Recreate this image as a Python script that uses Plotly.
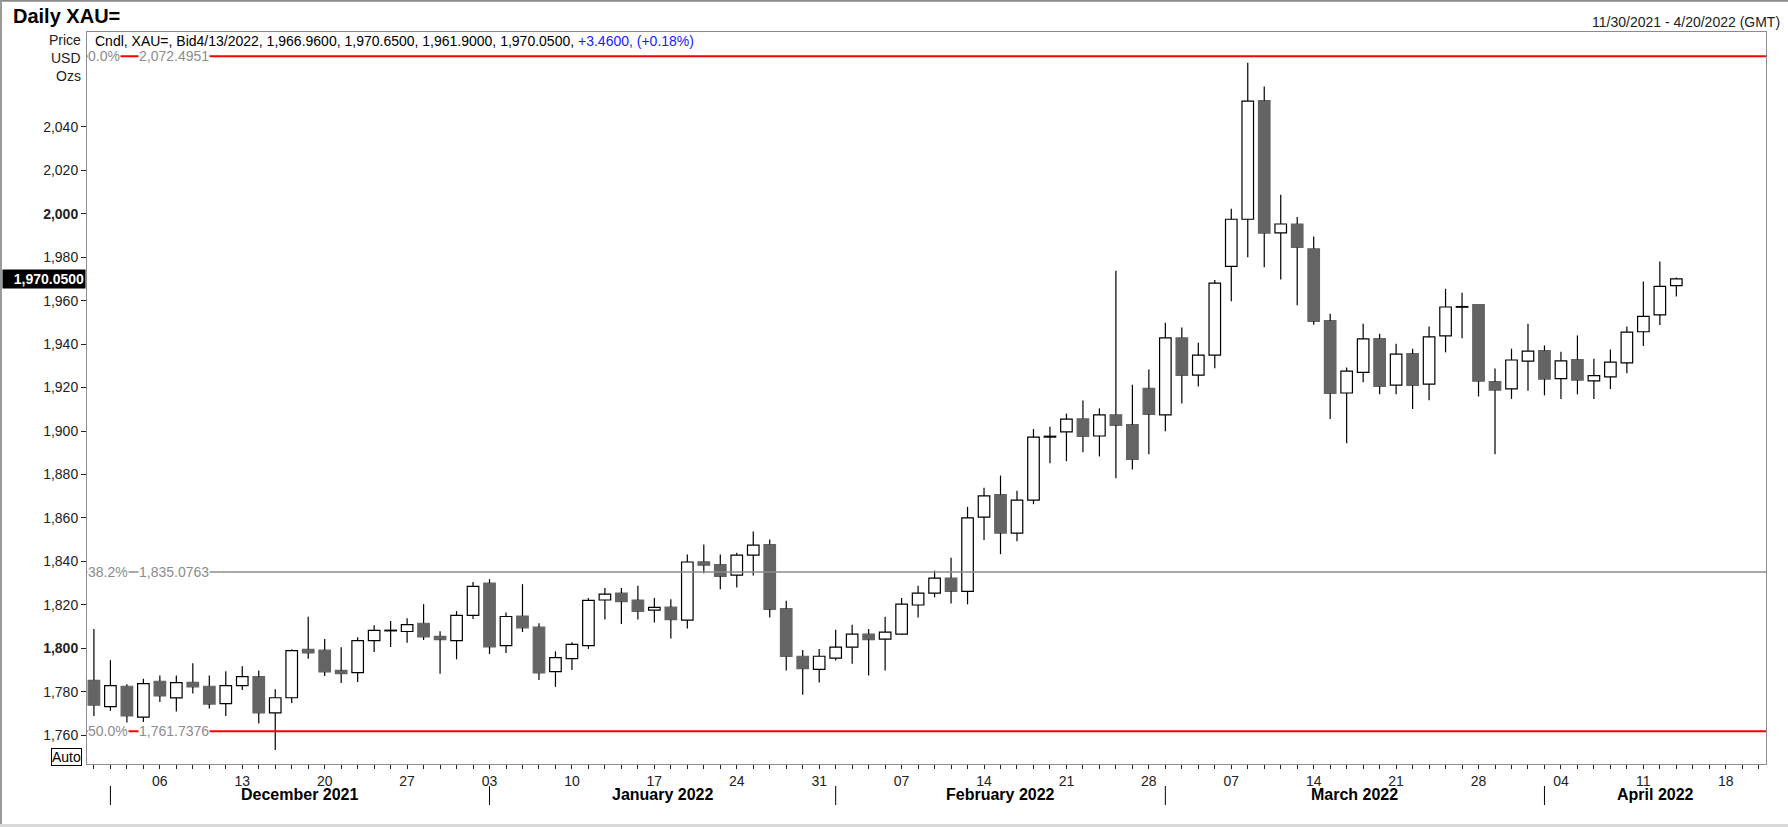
import pandas as pd
import plotly.graph_objects as go

# trading days shown on the axis (data runs to 4/13, axis to 4/20)
axis_days = pd.bdate_range("2021-11-30", "2022-04-20")

opens = [1785.2, 1773.1, 1782.5, 1768.3, 1784.8, 1777.1, 1784.3, 1782.5, 1774.5, 1782.8,
         1786.9, 1770.2, 1777.2, 1799.5, 1799.1, 1789.8, 1788.8, 1803.5, 1808.0, 1807.7,
         1811.5, 1805.5, 1803.5, 1815.1, 1830.0, 1801.2, 1814.8, 1809.7, 1789.2, 1795.2,
         1801.2, 1822.2, 1825.4, 1822.2, 1817.5, 1818.9, 1812.9, 1839.8, 1838.5, 1833.7,
         1842.9, 1847.7, 1818.2, 1796.3, 1790.3, 1795.4, 1800.5, 1806.5, 1804.2, 1806.5,
         1819.9, 1825.4, 1832.3, 1826.2, 1860.4, 1870.7, 1853.0, 1868.2, 1897.2, 1899.6,
         1905.6, 1897.7, 1907.5, 1902.9, 1919.6, 1907.4, 1942.9, 1925.7, 1934.9, 1975.8,
         1997.5, 2052.1, 1991.2, 1995.3, 1983.9, 1950.8, 1917.5, 1927.0, 1942.5, 1921.1,
         1935.6, 1921.6, 1943.8, 1957.0, 1958.2, 1922.7, 1919.4, 1932.2, 1937.0, 1924.1,
         1932.9, 1923.1, 1924.9, 1931.4, 1945.7, 1953.5, 1966.96]
highs = [1808.8, 1794.5, 1783.4, 1786.0, 1787.5, 1787.5, 1793.1, 1787.5, 1789.4, 1791.7,
         1789.8, 1781.1, 1799.5, 1814.5, 1804.2, 1800.5, 1805.1, 1810.6, 1812.5, 1813.8,
         1820.3, 1807.8, 1817.1, 1830.5, 1831.8, 1816.5, 1829.5, 1811.5, 1798.6, 1802.8,
         1823.1, 1827.7, 1827.7, 1828.8, 1823.1, 1822.6, 1843.1, 1847.7, 1843.1, 1844.0,
         1853.7, 1850.0, 1821.9, 1799.2, 1799.7, 1808.5, 1810.8, 1808.9, 1814.5, 1823.1,
         1828.8, 1835.7, 1841.7, 1865.1, 1873.9, 1879.5, 1872.5, 1900.9, 1902.0, 1908.0,
         1914.0, 1910.4, 1973.8, 1921.3, 1928.3, 1949.8, 1947.6, 1940.6, 1969.5, 2002.3,
         2069.5, 2058.6, 2008.8, 1998.5, 1989.5, 1954.0, 1929.2, 1949.4, 1944.8, 1940.2,
         1937.9, 1948.1, 1965.5, 1963.6, 1958.2, 1928.8, 1937.9, 1949.4, 1939.4, 1936.5,
         1944.0, 1933.3, 1937.5, 1948.1, 1968.8, 1978.0, 1970.65]
lows = [1768.8, 1771.2, 1762.0, 1766.0, 1775.2, 1770.9, 1779.1, 1772.2, 1768.8, 1780.8,
        1765.4, 1753.2, 1774.8, 1795.1, 1787.2, 1784.0, 1784.5, 1798.3, 1800.6, 1802.5,
        1803.8, 1788.2, 1794.9, 1813.5, 1797.4, 1797.8, 1807.5, 1785.4, 1782.2, 1790.0,
        1799.7, 1813.2, 1811.1, 1813.2, 1811.8, 1804.5, 1809.1, 1834.5, 1827.1, 1828.0,
        1833.5, 1814.2, 1789.7, 1778.6, 1784.2, 1794.3, 1792.9, 1787.4, 1789.7, 1806.3,
        1814.2, 1823.4, 1820.6, 1820.2, 1849.8, 1843.3, 1849.2, 1866.3, 1885.2, 1886.1,
        1890.2, 1888.3, 1878.2, 1882.3, 1889.3, 1899.9, 1912.7, 1920.5, 1928.9, 1959.7,
        1980.0, 1975.4, 1969.8, 1957.9, 1948.9, 1905.5, 1894.4, 1922.4, 1916.9, 1916.9,
        1910.1, 1914.2, 1936.2, 1942.7, 1915.9, 1889.3, 1914.8, 1918.5, 1916.4, 1914.7,
        1916.9, 1914.7, 1919.3, 1926.6, 1939.1, 1948.8, 1961.90]
closes = [1773.8, 1782.8, 1768.8, 1783.7, 1778.0, 1784.2, 1782.2, 1774.3, 1782.8, 1786.9,
          1770.2, 1777.2, 1798.9, 1797.8, 1789.1, 1788.3, 1803.5, 1808.2, 1808.3, 1810.9,
          1805.2, 1804.0, 1815.1, 1828.5, 1800.6, 1814.6, 1809.4, 1788.6, 1795.7, 1801.8,
          1822.0, 1824.9, 1821.5, 1816.9, 1818.8, 1813.2, 1839.7, 1838.2, 1833.1, 1842.9,
          1847.5, 1817.9, 1796.2, 1790.6, 1796.3, 1800.5, 1806.5, 1804.0, 1807.4, 1820.3,
          1825.4, 1832.3, 1826.2, 1860.0, 1870.1, 1853.0, 1868.2, 1897.2, 1897.6, 1905.5,
          1897.5, 1907.4, 1902.6, 1886.9, 1907.7, 1942.9, 1925.6, 1934.9, 1968.1, 1997.5,
          2051.9, 1991.1, 1995.3, 1984.5, 1950.5, 1917.3, 1927.6, 1942.4, 1920.5, 1935.4,
          1921.0, 1943.3, 1957.1, 1957.3, 1922.9, 1918.8, 1932.7, 1936.8, 1923.9, 1932.3,
          1923.4, 1925.5, 1931.7, 1945.5, 1952.8, 1966.59, 1970.05]

fib_levels = [2072.4951, 1835.0763, 1761.7376]
fib_pcts = ["0.0%", "38.2%", "50.0%"]
fib_colors = ["#ff0000", "#8c8c8c", "#ff0000"]

y_ticks = [1760, 1780, 1800, 1820, 1840, 1860, 1880, 1900, 1920, 1940, 1960, 1980, 2000, 2020, 2040]
bold_ticks = [1800, 2000]
last_price = 1970.05

W, H = 1788, 827
L, R, T, B = 87, 1766, 32, 764   # plot area in pixels


def px_x(px):
    return (px - L) / (R - L)


def px_y(py):
    return (B - py) / (B - T)


font = "Liberation Sans, Arial, sans-serif"
idx = list(range(len(opens)))

# wicks drawn as two pieces so they don't cross hollow bodies
wick_x, wick_y = [], []
body_base, body_h, body_fill, body_line = [], [], [], []
for i, o, h, l, c in zip(idx, opens, highs, lows, closes):
    top, bot = max(o, c), min(o, c)
    wick_x += [i, i, None, i, i, None]
    wick_y += [h, top, None, bot, l, None]
    body_base.append(bot)
    body_h.append(top - bot)
    up = c >= o
    body_fill.append("white" if up else "#646464")
    body_line.append("black" if up else "#646464")

fig = go.Figure()
fig.add_trace(go.Scatter(x=wick_x, y=wick_y, mode="lines",
                         line=dict(color="black", width=1.2), hoverinfo="skip"))
fig.add_trace(go.Bar(x=idx, y=body_h, base=body_base, width=0.7,
                     marker=dict(color=body_fill, line=dict(color=body_line, width=1.2)),
                     hoverinfo="skip"))

# x axis: a tick each trading day, label on Mondays
x_vals = list(range(len(axis_days)))
x_text = [d.strftime("%d") if d.weekday() == 0 else "" for d in axis_days]
x_range = [-0.42, 101.44]

fig.update_xaxes(range=x_range, tickvals=x_vals, ticktext=x_text, ticks="outside",
                 ticklen=4, tickwidth=1, tickcolor="#222222", showgrid=False, zeroline=False,
                 showline=True, linecolor="#8b8b94", linewidth=1, mirror=True,
                 tickfont=dict(size=14, color="#222222"))
fig.update_yaxes(range=[1746.7, 2083.7], tickvals=y_ticks,
                 ticktext=[("<b>{:,}</b>" if v in bold_ticks else "{:,}").format(v) for v in y_ticks],
                 ticks="outside", ticklen=5, tickwidth=1, tickcolor="#222222",
                 showgrid=False, zeroline=False, showline=True, linecolor="#8b8b94",
                 linewidth=1, mirror=True, tickfont=dict(size=14, color="#222222"))

shapes = []
annotations = []

# fibonacci levels
for lvl, pct, col in zip(fib_levels, fib_pcts, fib_colors):
    shapes.append(dict(type="line", xref="paper", x0=0, x1=1, yref="y", y0=lvl, y1=lvl,
                       line=dict(color=col, width=2 if col == "#ff0000" else 1.5)))
    annotations.append(dict(xref="paper", x=0, xanchor="left", yref="y", y=lvl, yanchor="middle",
                            text=pct, showarrow=False, bgcolor="white", borderpad=0,
                            font=dict(size=14, color="#8c8c8c")))
    annotations.append(dict(xref="paper", x=0, xanchor="left", xshift=51, yref="y", y=lvl,
                            yanchor="middle", text="{:,.4f}".format(lvl), showarrow=False,
                            bgcolor="white", borderpad=0, font=dict(size=14, color="#8c8c8c")))

# month separators and names
month_starts = []
for i, d in enumerate(axis_days):
    if i > 0 and d.month != axis_days[i - 1].month:
        month_starts.append(i)
bounds = month_starts + [x_range[1] + 0.06]
for k, s in enumerate(month_starts):
    shapes.append(dict(type="line", xref="x", x0=s, x1=s, yref="paper",
                       y0=px_y(786), y1=px_y(805), line=dict(color="black", width=1)))
    center = (s + bounds[k + 1]) / 2
    annotations.append(dict(xref="x", x=center, yref="paper", y=px_y(794), yanchor="middle",
                            text="<b>" + axis_days[s].strftime("%B %Y") + "</b>",
                            showarrow=False, font=dict(size=16, color="black")))

# outer frame
shapes.append(dict(type="line", xref="paper", yref="paper", x0=px_x(0), x1=px_x(W),
                   y0=px_y(0.8), y1=px_y(0.8), line=dict(color="#8a8a8a", width=2)))
shapes.append(dict(type="line", xref="paper", yref="paper", x0=px_x(1), x1=px_x(1),
                   y0=px_y(0), y1=px_y(H), line=dict(color="#9a9a9a", width=2)))
shapes.append(dict(type="line", xref="paper", yref="paper", x0=px_x(0), x1=px_x(W),
                   y0=px_y(H - 1.5), y1=px_y(H - 1.5), line=dict(color="#dadada", width=3)))

# header texts
annotations += [
    dict(xref="paper", x=px_x(11), xanchor="left", yref="paper", y=px_y(16), yanchor="middle",
         text="<b>Daily XAU=</b>", showarrow=False, font=dict(size=20, color="black")),
    dict(xref="paper", x=px_x(1782), xanchor="right", yref="paper", y=px_y(22), yanchor="middle",
         text="11/30/2021 - 4/20/2022 (GMT)", showarrow=False, font=dict(size=14, color="#222222")),
    dict(xref="paper", x=px_x(93), xanchor="left", yref="paper", y=px_y(41), yanchor="middle",
         text="Cndl, XAU=, Bid4/13/2022, 1,966.9600, 1,970.6500, 1,961.9000, 1,970.0500, "
              "<span style='color:#1a1aff'>+3.4600, (+0.18%)</span>",
         showarrow=False, font=dict(size=14, color="black")),
]
for name, py in zip(["Price", "USD", "Ozs"], [40, 58, 76]):
    annotations.append(dict(xref="paper", x=px_x(83), xanchor="right", yref="paper", y=px_y(py),
                            yanchor="middle", text=name, showarrow=False,
                            font=dict(size=14, color="#222222")))

# last price tag and Auto button
annotations.append(dict(xref="paper", x=px_x(86), xanchor="right", yref="y", y=last_price,
                        yanchor="middle", text="<b>{:,.4f}</b>".format(last_price), showarrow=False,
                        bgcolor="black", borderpad=1, width=80, align="right",
                        font=dict(size=14, color="white")))
annotations.append(dict(xref="paper", x=px_x(82), xanchor="right", yref="paper", y=px_y(756.5),
                        yanchor="middle", text="Auto", showarrow=False, bordercolor="black",
                        borderwidth=1, borderpad=0, font=dict(size=14, color="black")))

fig.update_layout(width=W, height=H, margin=dict(l=L, r=W - R, t=T, b=H - B),
                  paper_bgcolor="white", plot_bgcolor="white", showlegend=False,
                  font=dict(family=font), shapes=shapes, annotations=annotations)

# the page has a default body margin; drop it so the figure sits at 0,0
fig.write_html("out.html", config={"displayModeBar": False},
               post_script="document.body.style.margin='0';")
